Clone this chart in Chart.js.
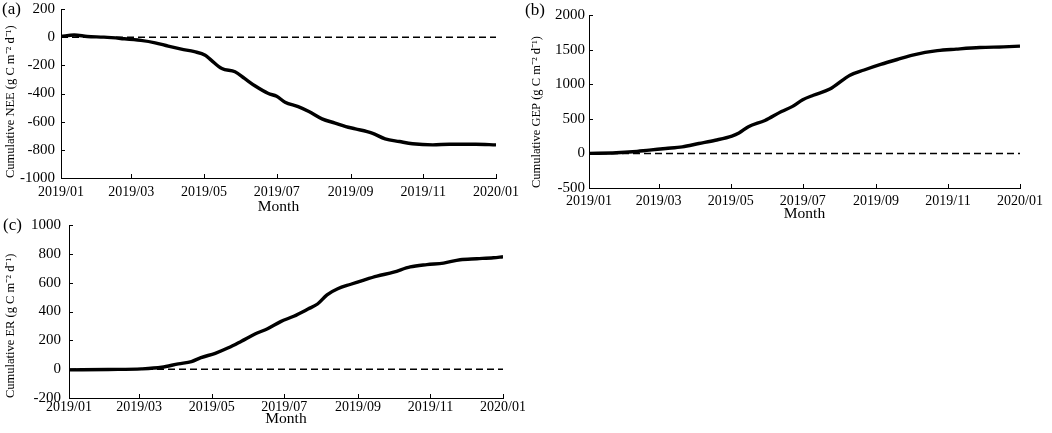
<!DOCTYPE html>
<html lang="en">
<head>
<meta charset="UTF-8" />
<title>Cumulative NEE, GEP and ER</title>
<script src="https://cdn.jsdelivr.net/npm/chart.js"></script>
<style>
  body { margin: 0; background: #fff; }
  .page { position: relative; width: 1052px; height: 433px; overflow: hidden; }
  .box { position: absolute; }
  .tag { position: absolute; font-family: "Liberation Serif", serif; font-size: 17px; color: #000; }
</style>
</head>
<body>
<div class="page">
  <div class="box" style="left:0; top:0; width:520px; height:216px;"><canvas id="neeChart"></canvas></div>
  <div class="box" style="left:525px; top:0; width:527px; height:222px;"><canvas id="gepChart"></canvas></div>
  <div class="box" style="left:0; top:210px; width:525px; height:223px;"><canvas id="erChart"></canvas></div>
  <div class="tag" style="left:2px; top:-1px;">(a)</div>
  <div class="tag" style="left:525px; top:0px;">(b)</div>
  <div class="tag" style="left:3px; top:215px;">(c)</div>
</div>

<script>
  // day of year for the month ticks
  const monthDays = [0, 59, 120, 181, 243, 304, 365];
  const monthLabels = ['2019/01', '2019/03', '2019/05', '2019/07', '2019/09', '2019/11', '2020/01'];

  // (a) cumulative NEE
  const neeDays = [0, 11, 22, 36, 50, 67, 79, 90, 101, 112, 121, 126, 135, 146, 154, 163, 174, 181, 188, 199, 208, 219, 230, 239, 247, 261, 272, 284, 295, 312, 326, 348, 365];
  const neeValues = [5, 15, 5, 0, -9, -23, -40, -64, -85, -103, -128, -163, -223, -246, -293, -347, -400, -420, -462, -493, -528, -580, -610, -635, -651, -681, -722, -741, -757, -765, -760, -760, -765];

  // (b) cumulative GEP
  const gepDays = [0, 23, 37, 51, 65, 79, 93, 107, 121, 127, 135, 149, 163, 172, 181, 190, 204, 221, 233, 247, 261, 275, 295, 311, 331, 351, 365];
  const gepValues = [0, 10, 24, 48, 71, 95, 143, 190, 250, 295, 385, 476, 605, 676, 775, 840, 930, 1130, 1205, 1285, 1357, 1425, 1485, 1507, 1530, 1540, 1550];

  // (c) cumulative ER
  const erDays = [0, 33, 61, 78, 92, 103, 111, 123, 134, 145, 156, 167, 178, 189, 201, 209, 217, 226, 237, 248, 259, 273, 287, 301, 315, 329, 343, 357, 365];
  const erValues = [-5, -2, 2, 13, 37, 53, 80, 110, 148, 194, 242, 281, 330, 367, 417, 452, 516, 558, 589, 618, 645, 673, 709, 725, 736, 759, 766, 773, 780];

  const serif = '"Liberation Serif", "Times New Roman", serif';

  // tick marks pointing into the plot
  const inwardTicks = {
    id: 'inwardTicks',
    afterDatasetsDraw(chart) {
      const { ctx, chartArea: a, scales: { x, y } } = chart;
      ctx.save();
      ctx.strokeStyle = '#000';
      ctx.lineWidth = 1;
      ctx.beginPath();
      x.ticks.forEach(t => {
        const px = Math.round(x.getPixelForValue(t.value)) + 0.5;
        ctx.moveTo(px, a.bottom);
        ctx.lineTo(px, a.bottom - 4);
      });
      y.ticks.forEach(t => {
        const py = Math.round(y.getPixelForValue(t.value)) + 0.5;
        ctx.moveTo(a.left, py);
        ctx.lineTo(a.left + 4, py);
      });
      ctx.stroke();
      ctx.restore();
    }
  };

  function makePanel(id, days, values, yMin, yMax, yStep, yTitle, p) {
    const points = days.map((d, i) => ({ x: d, y: values[i] }));
    return new Chart(document.getElementById(id), {
      type: 'line',
      data: {
        datasets: [{
          data: [{ x: 0, y: 0 }, { x: 365, y: 0 }],
          borderColor: '#000',
          borderWidth: 1.5,
          borderDash: [7, 4],
          pointRadius: 0
        }, {
          data: points,
          borderColor: '#000',
          borderWidth: 3.4,
          pointRadius: 0,
          cubicInterpolationMode: 'monotone'
        }]
      },
      options: {
        responsive: true,
        maintainAspectRatio: false,
        animation: false,
        layout: { padding: { top: p.top, right: p.right, left: 0, bottom: 0 } },
        plugins: { legend: { display: false }, tooltip: { enabled: false } },
        scales: {
          x: {
            type: 'linear',
            min: 0,
            max: 365,
            afterBuildTicks: s => { s.ticks = monthDays.map(v => ({ value: v })); },
            afterFit: s => { s.height = p.xHeight; s.paddingLeft = 0; s.paddingRight = 0; },
            grid: { display: false, drawTicks: false },
            border: { display: true, color: '#000', width: 1 },
            ticks: {
              autoSkip: false,
              maxRotation: 0,
              padding: p.xPad,
              color: '#000',
              font: { family: serif, size: 14 },
              callback: (v, i) => monthLabels[i]
            },
            title: {
              display: true,
              text: 'Month',
              color: '#000',
              font: { family: serif, size: 15.5, lineHeight: 1 },
              padding: { top: 0, bottom: p.monthPad }
            }
          },
          y: {
            min: yMin,
            max: yMax,
            afterFit: s => { s.width = p.yWidth; s.paddingTop = 0; s.paddingBottom = 0; },
            grid: { display: false, drawTicks: false },
            border: { display: true, color: '#000', width: 1 },
            ticks: {
              stepSize: yStep,
              padding: p.yPad,
              color: '#000',
              font: { family: serif, size: 15 },
              callback: v => String(v)
            },
            title: {
              display: true,
              text: yTitle,
              align: 'start',
              color: '#000',
              font: { family: serif, size: 12.5, lineHeight: 1.2 },
              padding: { top: p.titlePad, bottom: 0 }
            }
          }
        }
      },
      plugins: [inwardTicks]
    });
  }

  makePanel('neeChart', neeDays, neeValues, -1000, 200, 200, 'Cumulative NEE (g C m⁻² d⁻¹)',
    { top: 9, right: 24, xHeight: 38, yWidth: 61, xPad: 6, yPad: 6, monthPad: 1, titlePad: 3 });
  makePanel('gepChart', gepDays, gepValues, -500, 2000, 500, 'Cumulative GEP (g C m⁻² d⁻¹)',
    { top: 15, right: 32, xHeight: 34, yWidth: 64, xPad: 5, yPad: 4, monthPad: 0, titlePad: 4 });
  makePanel('erChart', erDays, erValues, -200, 1000, 200, 'Cumulative ER (g C m⁻² d⁻¹)',
    { top: 15, right: 22, xHeight: 35, yWidth: 69, xPad: 1, yPad: 8, monthPad: 6, titlePad: 3 });
</script>
</body>
</html>
